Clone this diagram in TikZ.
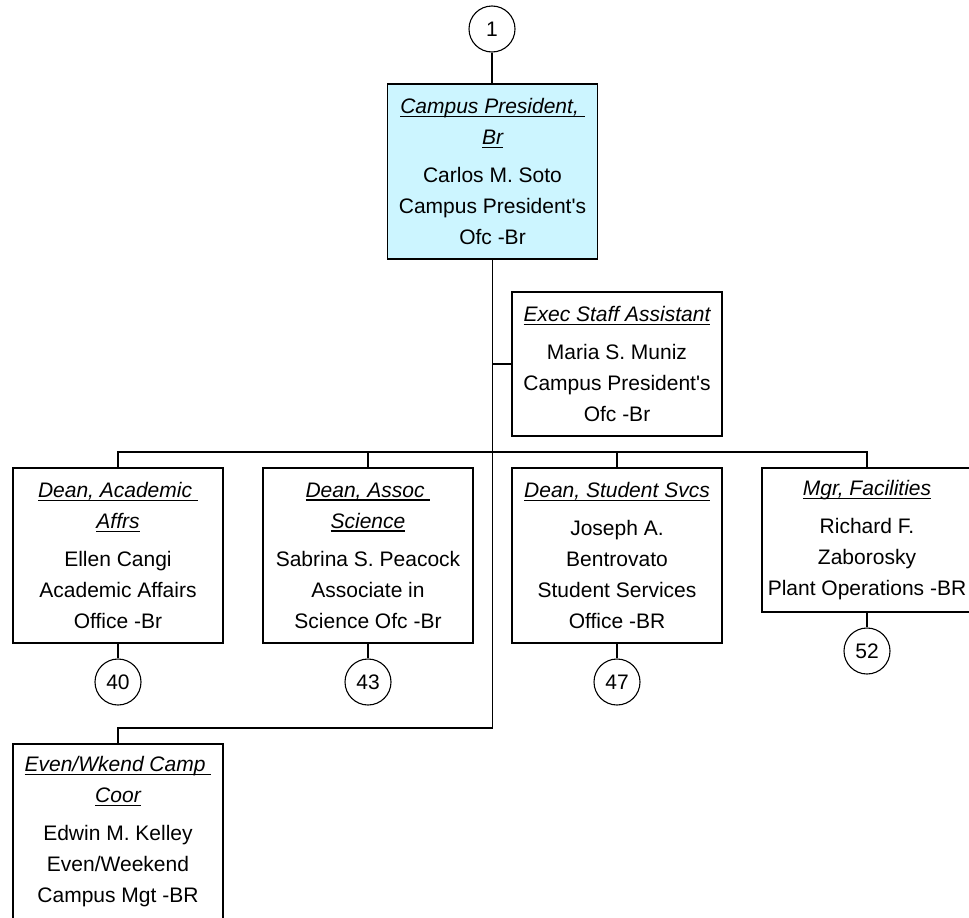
\documentclass[tikz,border=0pt]{standalone}
\usepackage{fontspec}
\setmainfont{Liberation Sans}
\definecolor{presfill}{RGB}{204,245,255}
\newcommand\ttl[1]{\setbox0\hbox{\itshape #1}\rlap{\rule[-3.5pt]{\wd0}{1.4pt}}\box0}
\newcommand\apo{\textquotesingle}
\begin{document}
\begin{tikzpicture}[x=1pt,y=-1pt,
  box/.style={draw, line width=1.5pt, minimum width=210pt, inner sep=2pt, align=center, font=\fontsize{21}{31}\selectfont},
  circ/.style={draw, circle, line width=1.1pt, minimum size=46pt, inner sep=0pt, font=\fontsize{21}{25}\selectfont},
  conn/.style={line width=1.5pt}]
\useasboundingbox (0,0) rectangle (969,918);
% nodes
\node[circ] (c1) at (492,29) {1};
\node[box, fill=presfill, minimum height=175pt] (pres) at (492.5,171.5)
  {\ttl{Campus President,~}\\\ttl{Br}\\[7pt]Carlos M. Soto\\Campus President\apo s\\Ofc -Br};
\node[box, minimum height=144pt] (exec) at (617,364)
  {\ttl{Exec Staff Assistant}\\[7pt]Maria S. Muniz\\Campus President\apo s\\Ofc -Br};
\node[box, minimum height=175pt] (acad) at (118,555.5)
  {\ttl{Dean, Academic~}\\\ttl{Affrs}\\[7pt]Ellen Cangi\\Academic Affairs\\Office -Br};
\node[box, minimum height=175pt] (assoc) at (368,555.5)
  {\ttl{Dean, Assoc~}\\\ttl{Science}\\[7pt]Sabrina S. Peacock\\Associate in\\Science Ofc -Br};
\node[box, minimum height=175pt] (stud) at (617,555.5)
  {\ttl{Dean, Student Svcs}\\[7pt]Joseph A.\\Bentrovato\\Student Services\\Office -BR};
\node[box, minimum height=144pt] (mgr) at (867,540)
  {\ttl{Mgr, Facilities}\\[7pt]Richard F.\\Zaborosky\\Plant Operations -BR};
\node[box, minimum height=175pt] (even) at (118,831.5)
  {\ttl{Even/Wkend Camp~}\\\ttl{Coor}\\[7pt]Edwin M. Kelley\\Even/Weekend\\Campus Mgt -BR};
\node[circ] (c40) at (118,682) {40};
\node[circ] (c43) at (368,682) {43};
\node[circ] (c47) at (617,682) {47};
\node[circ] (c52) at (867,651) {52};
% junctions
\coordinate (j1) at (pres.south |- exec.west);
\coordinate (bus) at (492.5,452);
\coordinate (j3) at (492.5,728);
% connectors
\draw[conn] (c1) -- (c1 |- pres.north);
\draw[conn] (pres.south) -- (j3) -| (even.north);
\draw[conn] (j1) -- (exec.west);
\draw[conn] (acad.north) |- (bus) -| (mgr.north);
\draw[conn] (assoc.north) |- (bus);
\draw[conn] (stud.north) |- (bus);
\draw[conn] (acad) -- (c40);
\draw[conn] (assoc) -- (c43);
\draw[conn] (stud) -- (c47);
\draw[conn] (mgr) -- (c52);
\end{tikzpicture}
\end{document}
